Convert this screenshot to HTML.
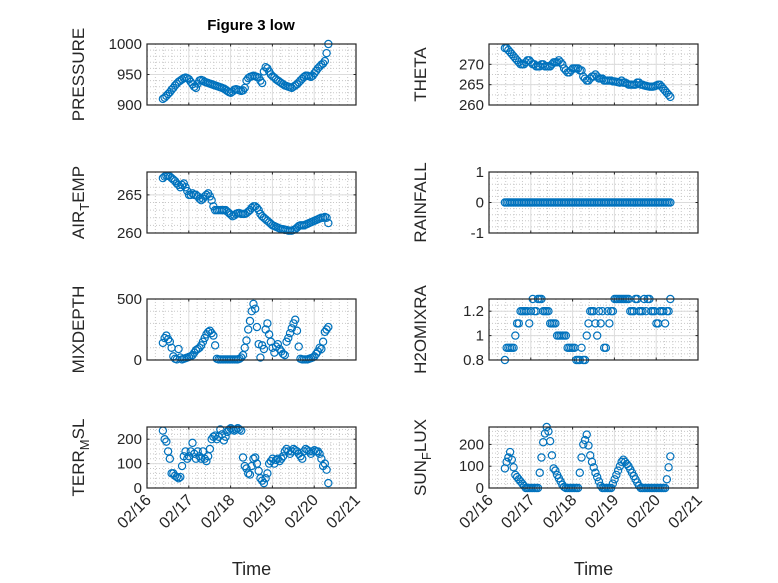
<!DOCTYPE html>
<html><head><meta charset="utf-8"><style>
body{margin:0;background:#fff}
svg{display:block;font-family:"Liberation Sans",sans-serif}
</style></head><body>
<svg id="fig" width="778" height="583" viewBox="0 0 778 583">
<rect width="778" height="583" fill="#fff"/>
<text x="251" y="30" text-anchor="middle" font-size="15" font-weight="bold" fill="#000">Figure 3 low</text>
</svg>
<script>
const startDay = 0.38;
const stepDay = 1/24;
const xTickLabels = ["02/16","02/17","02/18","02/19","02/20","02/21"];
const pressure = [910,912,915,918,921,925,928,932,935,938,940,942,944,945,944,942,938,934,930,928,935,940,941,940,
938,937,936,935,934,933,932,931,930,929,928,927,925,923,921,920,922,925,926,925,924,923,924,928,
940,944,946,947,948,947,946,945,940,936,955,962,960,955,950,947,945,942,940,938,936,934,932,931,
930,929,928,930,932,934,937,940,943,946,948,948,947,946,948,952,956,960,963,966,968,972,985,1000];
const theta = [274,274,273.5,273,272.5,272,271.5,271,270.5,270,270,270,270.5,271,271,270.5,270,270,269.5,269.5,269.5,270,270,269.5,
269.5,269.5,269.5,270,270.5,270.5,270.5,271,270.5,270,269,268.5,268,268,268.5,269,269,269,269,268.5,268.5,267,266.5,266,
266,266.5,267,267,267.5,267,266.5,266.5,266.5,266,266,266,266,266,265.8,265.8,265.7,265.6,265.5,266,265.5,265.5,265.3,265,
265,265,265,265,265.5,265.5,265,265,264.8,264.7,264.6,264.5,264.5,264.5,264.6,264.8,265,265,264.5,264,263.5,263,262.5,262];
const airTemp = [267.2,267.4,267.5,267.5,267.4,267.2,267,266.8,266.5,266.3,266,266.3,266.5,266,265.5,265,265,265.2,265,265,264.8,264.5,264.3,264.5,
264.8,265,265.2,264.8,264.3,263.5,263,263,263,263,263,263,263,262.8,262.6,262.4,262.2,262.3,262.5,262.6,262.6,262.5,262.5,262.5,
262.6,262.8,263,263.3,263.5,263.5,263.3,263,262.5,262.2,262,261.8,261.6,261.4,261.2,261,260.9,260.8,260.7,260.6,260.5,260.5,260.4,260.4,
260.3,260.3,260.3,260.4,260.5,260.7,260.9,261,261,261,261.1,261.2,261.3,261.4,261.5,261.6,261.7,261.8,261.9,262,262,262.1,262,261.3];
const rainfall = new Array(96).fill(0);
const mixDepth = [140,180,200,170,150,100,30,10,5,90,20,5,10,15,20,25,30,40,60,80,90,100,120,150,
180,210,230,240,220,200,120,10,5,5,5,5,5,5,5,5,5,5,5,5,10,20,40,100,
160,250,320,400,460,420,270,130,20,120,90,250,300,210,150,100,60,110,130,90,70,50,40,150,
180,220,260,300,330,240,110,10,5,5,5,5,10,15,20,30,50,70,100,90,150,230,250,270];
const h2oMix = [0.8,0.9,0.9,0.9,0.9,0.9,1.0,1.1,1.1,1.2,1.2,1.2,1.2,1.2,1.1,1.2,1.3,1.2,1.2,1.3,1.3,1.3,1.2,1.2,
1.2,1.2,1.1,1.1,1.1,1.1,1.0,1.0,1.0,1.0,1.0,1.0,0.9,0.9,0.9,0.9,0.9,0.8,0.8,0.8,0.9,0.8,0.8,1.0,
1.1,1.2,1.2,1.2,1.1,1.0,1.2,1.1,1.2,0.9,0.9,1.2,1.1,1.2,1.2,1.3,1.3,1.3,1.3,1.3,1.3,1.3,1.3,1.3,
1.2,1.2,1.2,1.3,1.3,1.2,1.2,1.2,1.3,1.2,1.3,1.3,1.2,1.2,1.2,1.1,1.1,1.2,1.2,1.2,1.1,1.2,1.2,1.3];
const terrMsl = [235,200,190,150,120,60,60,50,45,40,45,90,130,150,120,130,150,185,140,120,150,130,120,150,
120,110,130,160,200,210,215,200,210,240,220,195,210,230,240,245,240,235,240,245,240,235,125,90,
80,60,55,90,120,125,100,70,40,30,20,40,60,100,110,120,100,115,120,110,120,130,150,160,
150,140,150,160,155,150,140,130,120,150,160,155,150,140,150,155,150,150,140,120,90,100,75,20];
const sunFlux = [90,120,140,165,130,95,60,50,40,30,20,10,0,0,0,0,0,0,0,0,70,140,210,250,
280,260,215,150,90,80,60,45,30,15,5,0,0,0,0,0,0,0,0,70,140,200,220,245,
195,150,120,95,70,50,30,10,0,0,0,0,0,0,20,40,60,80,100,120,130,120,110,100,
85,70,55,40,25,10,0,0,0,0,0,0,0,0,0,0,0,0,0,0,0,40,95,145];

const NS="http://www.w3.org/2000/svg";
const svg=document.getElementById('fig');
function mk(tag,attrs,parent){const e=document.createElementNS(NS,tag);for(const k in attrs)e.setAttribute(k,attrs[k]);(parent||svg).appendChild(e);return e;}

const panels=[
 {name:'pressure',label:['PRESSURE'],data:pressure,x0:147,y0:44,ymin:900,ymax:1000,ticks:[900,950,1000],minor:10},
 {name:'theta',label:['THETA'],data:theta,x0:489,y0:44,ymin:260,ymax:275,ticks:[260,265,270],minor:2.5},
 {name:'air-temp',label:['AIR','T','EMP'],data:airTemp,x0:147,y0:172,ymin:260,ymax:268,ticks:[260,265],minor:1},
 {name:'rainfall',label:['RAINFALL'],data:rainfall,x0:489,y0:172,ymin:-1,ymax:1,ticks:[-1,0,1],minor:0.2},
 {name:'mixdepth',label:['MIXDEPTH'],data:mixDepth,x0:147,y0:299,ymin:0,ymax:500,ticks:[0,500],minor:100},
 {name:'h2omixra',label:['H2OMIXRA'],data:h2oMix,x0:489,y0:299,ymin:0.8,ymax:1.3,ticks:[0.8,1,1.2],minor:0.05},
 {name:'terr-msl',label:['TERR','M','SL'],data:terrMsl,x0:147,y0:427,ymin:0,ymax:250,ticks:[0,100,200],minor:20,bottom:true},
 {name:'sun-flux',label:['SUN','F','LUX'],data:sunFlux,x0:489,y0:427,ymin:0,ymax:280,ticks:[0,100,200],minor:20,bottom:true}
];
const W=209,H=61;
panels.forEach(p=>{
 const g=mk('g',{});
 
 
 const xs=d=>p.x0+d/5*W;
 const ys=v=>p.y0+H-(v-p.ymin)/(p.ymax-p.ymin)*H;
 for(let d=0.2;d<5;d+=0.2){ if(Math.abs(d-Math.round(d))<0.01)continue;
  mk('line',{x1:xs(d),x2:xs(d),y1:p.y0,y2:p.y0+H,stroke:'#c8c8c8','stroke-dasharray':'1 2','stroke-width':1},g);}
 for(let v=p.ymin+p.minor;v<p.ymax-1e-9;v+=p.minor){
  mk('line',{x1:p.x0,x2:p.x0+W,y1:ys(v),y2:ys(v),stroke:'#c8c8c8','stroke-dasharray':'1 2','stroke-width':1},g);}
 for(let d=1;d<5;d++) mk('line',{x1:xs(d),x2:xs(d),y1:p.y0,y2:p.y0+H,stroke:'#dcdcdc','stroke-width':1},g);
 p.ticks.forEach(v=>{ mk('line',{x1:p.x0,x2:p.x0+W,y1:ys(v),y2:ys(v),stroke:'#dcdcdc','stroke-width':1},g);});
 for(let d=0;d<=5;d++){
  mk('line',{x1:xs(d),x2:xs(d),y1:p.y0+H,y2:p.y0+H-2.5,stroke:'#262626'},g);
  mk('line',{x1:xs(d),x2:xs(d),y1:p.y0,y2:p.y0+2.5,stroke:'#262626'},g);}
 p.ticks.forEach(v=>{
  mk('line',{x1:p.x0,x2:p.x0+2.5,y1:ys(v),y2:ys(v),stroke:'#262626'},g);
  mk('line',{x1:p.x0+W,x2:p.x0+W-2.5,y1:ys(v),y2:ys(v),stroke:'#262626'},g);
  const t=mk('text',{x:p.x0-5,y:ys(v)+5,'text-anchor':'end','font-size':15,fill:'#262626'},g);
  
  
  t.textContent=String(v);
 });
 p.data.forEach((v,i)=>{
  const c=mk('circle',{cx:xs(startDay+i*stepDay),cy:ys(v),r:3.6,fill:'none',stroke:'#0072BD','stroke-width':1.2},g);
  
  
 });
 const b=mk('rect',{x:p.x0,y:p.y0,width:W,height:H,fill:'none',stroke:'#262626','stroke-width':1.2},g);
 
 
 const lx=p.x0-63, ly=p.y0+H/2;
 const yl=mk('text',{x:lx,y:ly,'text-anchor':'middle','font-size':17,fill:'#262626',transform:`rotate(-90 ${lx} ${ly})`},g);
 
 
 if(p.label.length===1) yl.textContent=p.label[0];
 else{
  const a=mk('tspan',{},yl);a.textContent=p.label[0];
  const s=mk('tspan',{dy:5,'font-size':13},yl);s.textContent=p.label[1];
  const e=mk('tspan',{dy:-5},yl);e.textContent=p.label[2];
 }
 if(p.bottom){
  xTickLabels.forEach((lab,d)=>{
   const tx=xs(d)+5, ty=p.y0+H+13;
   const t=mk('text',{x:tx,y:ty,'text-anchor':'end','font-size':16,fill:'#262626',transform:`rotate(-45 ${tx} ${ty})`},g);
   
   
   t.textContent=lab;
  });
  const xl=mk('text',{x:p.x0+W/2,y:575,'text-anchor':'middle','font-size':18,fill:'#262626'},g);
  
  
  xl.textContent='Time';
 }
});
</script>
</body></html>
